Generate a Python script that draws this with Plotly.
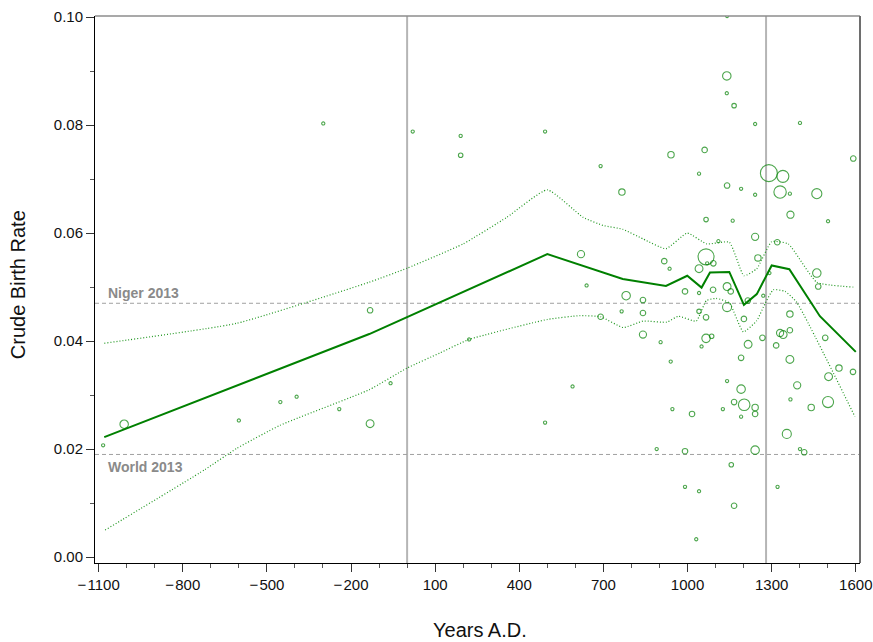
import numpy as np
import plotly.graph_objects as go

# ---------------- data ----------------
# scatter observations: year, crude birth rate, sample weight
obs_year = [-1084, -1009, -600, -452, -394, -242, -299, -132, -132, -59, 221, 492, 590, 690, 640,
            20, 191, 191, 492, 690, 620,
            1140, 1140, 1166, 1241, 1401, 1591, 941, 1061, 1041, 1290, 1340, 1330, 1365, 1461,
            1141, 1191, 1241, 766, 1066, 1161, 1367, 1501, 1241, 1110, 1320, 1251, 1066, 917,
            936, 1041, 1070, 1092, 1292, 1461, 1466, 781, 841, 991, 1041, 1091, 1141, 1154,
            1270, 1141, 1215, 765, 841, 1041, 1066, 1201, 1365, 841, 904, 1066, 1086, 1216,
            1267, 1316, 1330, 1341, 1365, 1491, 1050, 940, 1191, 1365, 1141, 1191, 1391, 1540,
            1590, 1503, 1166, 1202, 1241, 1241, 1191, 1367, 1441, 1501, 946, 1016, 1126, 1354,
            890, 991, 1241, 1401, 1416, 1156, 991, 1041, 1321, 1166, 1031, 1141]
obs_cbr = [0.0207, 0.0246, 0.0253, 0.0287, 0.0297, 0.0274, 0.0803, 0.0457, 0.0247, 0.0322, 0.0403,
           0.0249, 0.0316, 0.0445, 0.0503,
           0.0788, 0.0780, 0.0744, 0.0788, 0.0724, 0.0561,
           0.0891, 0.0859, 0.0836, 0.0802, 0.0804, 0.0738, 0.0745, 0.0754, 0.0710, 0.0711, 0.0705,
           0.0676, 0.0673, 0.0673, 0.0688, 0.0682, 0.0671, 0.0676, 0.0625, 0.0623, 0.0634, 0.0622,
           0.0593, 0.0585, 0.0583, 0.0554, 0.0556, 0.0548, 0.0534, 0.0534, 0.0544, 0.0544, 0.0526,
           0.0526, 0.0501, 0.0484, 0.0476, 0.0492, 0.0489, 0.0495, 0.0501, 0.0492, 0.0484, 0.0463,
           0.0475, 0.0455, 0.0452, 0.0455, 0.0444, 0.0441, 0.0450, 0.0412, 0.0398, 0.0405, 0.0409,
           0.0394, 0.0406, 0.0392, 0.0415, 0.0412, 0.0420, 0.0406, 0.0390, 0.0362, 0.0369, 0.0366,
           0.0326, 0.0311, 0.0318, 0.0350, 0.0343, 0.0334, 0.0287, 0.0282, 0.0277, 0.0265, 0.0260,
           0.0292, 0.0277, 0.0287, 0.0274, 0.0265, 0.0274, 0.0228, 0.0200, 0.0196, 0.0198, 0.0200,
           0.0194, 0.0171, 0.0130, 0.0122, 0.0130, 0.0095, 0.0033, 0.1002]
obs_weight = [1, 7, 1, 1, 1, 1, 1, 3, 6, 1, 1, 1, 1, 3, 1,
              1, 1, 2, 1, 1, 5,
              7, 1, 2, 1, 1, 3, 4, 3, 1, 28, 14, 15, 1, 10,
              3, 1, 1, 4, 2, 1, 5, 1, 5, 1, 3, 4, 25, 3,
              1, 6, 1, 3, 1, 7, 3, 7, 3, 3, 1, 3, 6, 3,
              1, 8, 3, 1, 3, 2, 3, 3, 4, 5, 1, 7, 2, 6,
              3, 3, 5, 6, 3, 3, 1, 1, 3, 6, 1, 7, 5, 4,
              3, 6, 3, 13, 4, 3, 1, 1, 4, 12, 1, 3, 1, 8,
              1, 3, 7, 1, 3, 2, 1, 1, 1, 3, 1, 1]

# fitted curve
fit_year = [-1080, -135, 500, 769, 923, 999, 1050, 1080, 1149, 1201, 1247, 1300, 1363, 1472, 1600]
fit_cbr = [0.0222, 0.0413, 0.0561, 0.0515, 0.0502, 0.0521, 0.0499, 0.0527, 0.0528, 0.0467,
           0.0487, 0.0540, 0.0533, 0.0446, 0.0380]

# upper confidence band
up_year = [-1080, -607, -135, 0, 200, 355, 500, 628, 700, 769, 842, 923, 999, 1068, 1149,
           1201, 1247, 1300, 1359, 1461, 1591]
up_cbr = [0.0396, 0.0433, 0.0509, 0.0535, 0.0580, 0.0629, 0.0680, 0.0629, 0.0614, 0.0607,
          0.0589, 0.0571, 0.0600, 0.0580, 0.0583, 0.0521, 0.0534, 0.0584, 0.0580, 0.0509, 0.0500]

# lower confidence band
lo_year = [-1077, -721, -608, -453, -135, 0, 117, 221, 500, 616, 690, 771, 841, 926, 967, 1031,
           1067, 1102, 1149, 1199, 1247, 1276, 1306, 1348, 1389, 1597]
lo_cbr = [0.0050, 0.0162, 0.0201, 0.0244, 0.0310, 0.0350, 0.0378, 0.0403, 0.0440, 0.0447,
          0.0445, 0.0425, 0.0437, 0.0435, 0.0446, 0.0437, 0.0475, 0.0479, 0.0471, 0.0417,
          0.0438, 0.0469, 0.0495, 0.0492, 0.0472, 0.0260]

ref_labels = ["Niger 2013", "World 2013"]
ref_values = [0.047, 0.019]
vline_years = [0, 1280]

x_ticks = [-1100, -800, -500, -200, 100, 400, 700, 1000, 1300, 1600]
x_ticktext = [("\u2212\u200a" + str(-v)) if v < 0 else str(v) for v in x_ticks]
y_ticks = [0.00, 0.02, 0.04, 0.06, 0.08, 0.10]

# ---------------- figure ----------------
GREEN = "#008000"
FONT = "Liberation Sans, Arial, sans-serif"
fig = go.Figure()

sizes = 3.2 * np.sqrt(np.array(obs_weight, dtype=float))
fig.add_trace(go.Scatter(
    x=obs_year, y=obs_cbr, mode="markers",
    marker=dict(symbol="circle-open", size=sizes, color=GREEN, line=dict(width=1.1, color=GREEN)),
    showlegend=False, cliponaxis=True))

for yy, vv in [(up_year, up_cbr), (lo_year, lo_cbr)]:
    fig.add_trace(go.Scatter(x=yy, y=vv, mode="lines", line_shape="spline",
                             line=dict(color="#1f961f", width=1.2, dash="1px,2px", smoothing=0.45),
                             showlegend=False))
fig.add_trace(go.Scatter(x=fit_year, y=fit_cbr, mode="lines",
                         line=dict(color=GREEN, width=2), showlegend=False))

shapes = []
for v in vline_years:
    shapes.append(dict(type="line", xref="x", yref="paper", x0=v, x1=v, y0=0, y1=1,
                       line=dict(color="#b5b5b5", width=2), layer="below"))
for v in ref_values:
    shapes.append(dict(type="line", xref="paper", yref="y", x0=0, x1=1, y0=v, y1=v,
                       line=dict(color="#a0a0a0", width=1, dash="4px,3px"), layer="below"))
# frame: top (gray) and right (dark gray)
shapes.append(dict(type="line", xref="paper", yref="paper", x0=0, x1=1, y0=1, y1=1,
                   line=dict(color="#8c8c8c", width=1.5)))
shapes.append(dict(type="line", xref="paper", yref="paper", x0=1, x1=1, y0=0, y1=1,
                   line=dict(color="#6e6e6e", width=2)))

annotations = []
for lab, v, anchor in zip(ref_labels, ref_values, ["bottom", "top"]):
    annotations.append(dict(x=-1075, y=v, xref="x", yref="y", text="<b>" + lab + "</b>",
                            showarrow=False, xanchor="left", yanchor=anchor,
                            yshift=(0 if anchor == "bottom" else -3),
                            font=dict(family=FONT, size=14, color="#8a8a8a")))
# axis titles
annotations.append(dict(x=0.503, y=-0.1225, xref="paper", yref="paper", text="Years A.D.",
                        showarrow=False, xanchor="center", yanchor="middle",
                        font=dict(family=FONT, size=20, color="#111111")))
annotations.append(dict(x=-0.1006, y=0.508, xref="paper", yref="paper", text="Crude Birth Rate",
                        showarrow=False, xanchor="center", yanchor="middle", textangle=-90,
                        font=dict(family=FONT, size=20, color="#111111")))

fig.update_layout(
    width=873, height=642,
    margin=dict(l=95, r=13, t=16, b=79),
    plot_bgcolor="white", paper_bgcolor="white",
    font=dict(family=FONT, size=15, color="#111111"),
    shapes=shapes, annotations=annotations,
    xaxis=dict(range=[-1113, 1615], tickvals=x_ticks, ticktext=x_ticktext, automargin=False,
               showgrid=False, zeroline=False, showline=True, linecolor="#000000", linewidth=1,
               ticks="outside", ticklen=8, tickcolor="#333333", tickfont=dict(size=15),
               minor=dict(dtick=100, tick0=-1100, ticks="outside", ticklen=4, tickcolor="#555555", showgrid=False)),
    yaxis=dict(range=[-0.0011, 0.1002], tickvals=y_ticks, tickformat=".2f", automargin=False,
               showgrid=False, zeroline=False, showline=True, linecolor="#000000", linewidth=1,
               ticks="outside", ticklen=8, tickcolor="#333333", tickfont=dict(size=15),
               minor=dict(dtick=0.01, tick0=0, ticks="outside", ticklen=4, tickcolor="#555555", showgrid=False)),
)

# remove the default page margin so the 873x642 figure fills the window exactly
fig.write_html("out.html", config={"displayModeBar": False},
               post_script="document.body.style.margin='0';document.body.style.overflow='hidden';")
